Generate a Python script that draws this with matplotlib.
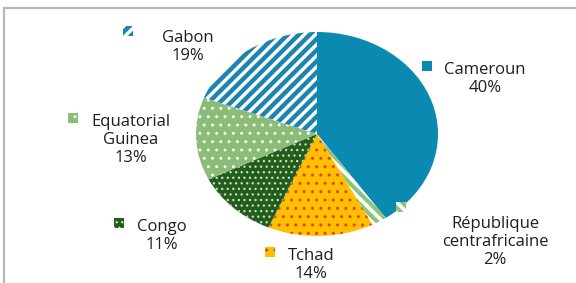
import matplotlib.pyplot as plt
from matplotlib.patches import Rectangle
from matplotlib.lines import Line2D

plt.rcParams['font.family'] = ['Open Sans', 'DejaVu Sans']

# data
categories = ['Cameroun', 'République\ncentrafricaine', 'Tchad', 'Congo',
              'Equatorial\nGuinea', 'Gabon']
shares = [40, 2, 14, 11, 13, 19]
face_colors = ['#0a8ab0', '#ffffff', '#ffc000', '#215e1c', '#8cbd78', '#ffffff']
hatch_colors = ['#0a8ab0', '#8cc47a', '#e8402a', '#d0dcc8', '#ffffff', '#1b85b0']
hatches = ['', '\\\\\\', '..', '...', '..', '///']
hatch_widths = [1.0, 3.0, 1.0, 0.9, 0.9, 3.2]

# layout in pixels (from top-left of the 576x283 image)
W, H = 576, 283
label_xy = [(485, 79), (495, 242), (311, 265), (162, 236), (131, 140), (188, 47)]
marker_xy = [(427, 66), (401, 207), (270, 252), (119, 223), (73, 118), (128, 31)]


def fx(x):
    return x / W


def fy(y):
    return 1 - y / H


fig = plt.figure(figsize=(W / 100, H / 100), dpi=100)

# pie drawn slightly wider than tall, as in the original
ax = fig.add_axes([fx(196), fy(236), (438 - 196) / W, (236 - 32) / H])
wedges, _ = ax.pie(shares, startangle=90, counterclock=False, radius=1,
                   wedgeprops=dict(linewidth=0))
ax.set_aspect('auto')
ax.set_xlim(-1, 1)
ax.set_ylim(-1, 1)

for w, fc, hc, h, hw in zip(wedges, face_colors, hatch_colors, hatches, hatch_widths):
    w.set_facecolor(fc)
    w.set_edgecolor(hc)
    w.set_linewidth(0)
    w.set_hatch(h)
    if hasattr(w, 'set_hatch_linewidth'):
        w.set_hatch_linewidth(hw)

# labels with small legend keys
for name, pct, (lx, ly), (mx, my), fc, hc, h, hw in zip(
        categories, shares, label_xy, marker_xy, face_colors, hatch_colors,
        hatches, hatch_widths):
    fig.text(fx(lx), fy(ly), f'{name}\n{pct}%', ha='center', va='center',
             multialignment='center', fontsize=12, color='#1e1e1e',
             linespacing=1.2)
    sq = Rectangle((fx(mx - 5), fy(my + 5)), 10 / W, 10 / H,
                   transform=fig.transFigure, facecolor=fc, edgecolor=hc,
                   linewidth=0, hatch=h, zorder=0)
    if hasattr(sq, 'set_hatch_linewidth'):
        sq.set_hatch_linewidth(hw)
    fig.patches.append(sq)

# chart frame (only top and left edges are visible in the crop)
fig.lines.append(Line2D([fx(4), 1], [fy(8), fy(8)], transform=fig.transFigure,
                        color='#b8b8b8', linewidth=1.6))
fig.lines.append(Line2D([fx(4), fx(4)], [fy(8), 0], transform=fig.transFigure,
                        color='#b8b8b8', linewidth=1.6))

fig.savefig('out.png', dpi=100)
